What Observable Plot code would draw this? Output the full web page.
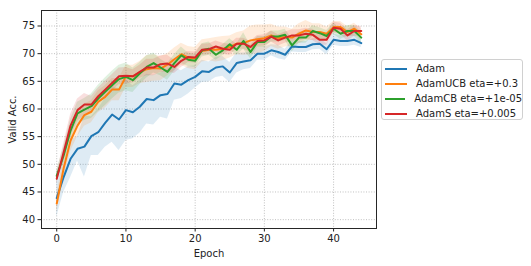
<!DOCTYPE html>
<html>
<head>
<meta charset="utf-8">
<script src="https://cdn.jsdelivr.net/npm/d3@7"></script>
<script src="https://cdn.jsdelivr.net/npm/@observablehq/plot@0.6"></script>
<style>
  html, body { margin: 0; padding: 0; background: white; }
  #wrap { position: relative; width: 531px; height: 266px; font-family: "DejaVu Sans", sans-serif; }
  #legend { position: absolute; left: 381px; top: 59px; width: 142px; height: 61px; border: 1px solid #d0d0d0; border-radius: 3px; background: rgba(255,255,255,0.8); box-sizing: border-box; padding-top: 1px; }
  .row { height: 15px; display: flex; align-items: center; font-size: 10px; color: #222; white-space: nowrap; }
  .sw { width: 22px; height: 2px; margin-left: 3px; margin-right: 9px; }
</style>
</head>
<body>
<div id="wrap"><div id="legend"></div></div>
<script>
const seriesNames = ["Adam", "AdamUCB eta=+0.3", "AdamCB eta=+1e-05", "AdamS eta=+0.005"];
const seriesColors = ["#1f77b4", "#ff7f0e", "#2ca02c", "#d62728"];
const xTicks = [0, 10, 20, 30, 40];
const yTicks = [40, 45, 50, 55, 60, 65, 70, 75];

const adamMean = [43.9, 47.7, 51.0, 52.8, 53.2, 55.1, 55.8, 57.5, 59.0, 58.1, 59.8, 59.4, 60.4, 61.8, 61.6, 62.5, 62.7, 64.6, 64.4, 65.2, 65.8, 66.8, 66.7, 67.5, 67.7, 66.6, 68.3, 68.6, 68.8, 70.0, 70.0, 70.6, 70.3, 69.8, 71.3, 71.2, 71.2, 71.7, 71.8, 70.8, 72.5, 72.3, 72.3, 72.5, 71.9];
const adamStd  = [3.4, 2.8, 3.4, 2.2, 5.5, 3.5, 4.2, 4.4, 5.0, 5.6, 5.5, 4.8, 4.8, 4.5, 4.5, 4.0, 4.5, 3.0, 2.5, 2.5, 2.0, 2.0, 1.8, 1.8, 1.8, 1.8, 1.8, 1.5, 1.5, 1.2, 1.2, 1.0, 1.2, 1.0, 1.0, 1.0, 1.0, 1.0, 1.0, 1.0, 1.0, 1.0, 1.0, 1.0, 0.8];

const ucbMean = [42.9, 49.3, 54.3, 57.0, 58.9, 59.5, 61.3, 62.2, 63.5, 63.5, 65.9, 65.9, 66.6, 67.2, 67.4, 67.3, 68.0, 69.0, 69.9, 69.3, 69.1, 70.5, 70.7, 70.7, 70.9, 71.2, 71.8, 71.9, 72.4, 72.6, 72.8, 73.3, 72.8, 73.0, 72.9, 73.6, 74.2, 73.9, 73.9, 73.6, 74.8, 74.8, 73.9, 74.5, 73.5];
const ucbStd  = [1.5, 2.0, 2.0, 2.0, 2.0, 2.0, 2.0, 2.0, 2.0, 2.0, 2.0, 2.0, 2.0, 2.4, 2.4, 2.2, 2.0, 2.0, 2.0, 2.0, 2.0, 2.0, 2.0, 2.2, 2.2, 2.0, 2.0, 2.2, 2.6, 2.6, 2.4, 2.0, 2.0, 1.8, 1.5, 1.8, 1.8, 1.5, 1.5, 1.2, 1.0, 1.0, 1.0, 1.0, 1.0];

const cbMean = [47.9, 51.6, 56.1, 59.2, 59.9, 60.5, 61.9, 63.1, 64.3, 65.4, 65.8, 65.2, 66.4, 67.6, 68.3, 67.5, 66.7, 68.3, 69.7, 68.9, 68.7, 70.6, 70.9, 69.8, 70.6, 71.7, 70.7, 72.3, 70.3, 72.1, 72.1, 73.1, 73.1, 73.4, 71.5, 72.9, 72.9, 74.1, 73.7, 73.2, 74.5, 73.6, 74.1, 74.1, 72.9];
const cbStd  = [1.0, 1.5, 2.0, 2.0, 2.0, 2.2, 2.4, 2.5, 2.5, 2.5, 2.5, 2.2, 2.0, 2.0, 1.8, 1.5, 1.5, 1.5, 1.5, 1.2, 1.2, 1.2, 1.2, 1.0, 1.0, 1.0, 1.0, 1.5, 1.2, 1.0, 1.0, 1.0, 1.0, 1.0, 1.2, 1.0, 1.0, 1.0, 1.0, 1.0, 1.0, 1.0, 1.0, 1.0, 1.0];

const sMean = [47.4, 52.2, 57.0, 59.8, 60.8, 60.8, 62.3, 63.5, 64.7, 65.9, 66.0, 65.9, 66.7, 67.5, 67.5, 68.1, 68.2, 67.6, 68.7, 69.4, 69.3, 70.7, 70.8, 71.3, 70.9, 70.7, 71.8, 71.8, 71.2, 72.3, 72.4, 73.1, 72.4, 72.9, 73.3, 73.3, 73.6, 73.4, 72.5, 72.5, 74.7, 74.5, 73.3, 74.1, 74.1];
const sStd  = [1.0, 1.5, 2.0, 2.0, 2.0, 1.5, 1.5, 1.5, 1.5, 1.5, 1.5, 1.2, 1.2, 1.5, 1.5, 1.5, 1.5, 1.2, 1.2, 1.0, 1.0, 1.0, 1.0, 1.0, 1.0, 1.0, 1.0, 1.0, 1.0, 1.0, 1.0, 1.0, 1.0, 1.0, 1.0, 1.0, 1.0, 1.0, 1.0, 1.0, 1.0, 1.0, 1.0, 1.0, 0.8];

const means = [adamMean, ucbMean, cbMean, sMean];
const stds = [adamStd, ucbStd, cbStd, sStd];

const rows = [];
means.forEach((m, k) => m.forEach((v, i) => rows.push({
  series: seriesNames[k], epoch: i, mean: v, lo: v - stds[k][i], hi: v + stds[k][i]
})));

const bandMarks = seriesNames.map((s, k) => Plot.areaY(rows.filter(r => r.series === s), {
  x: "epoch", y1: "lo", y2: "hi", fill: seriesColors[k], fillOpacity: 0.15
}));
const lineMarks = seriesNames.map((s, k) => Plot.lineY(rows.filter(r => r.series === s), {
  x: "epoch", y: "mean", stroke: seriesColors[k], strokeWidth: 2
}));

const chart = Plot.plot({
  width: 531, height: 266,
  marginLeft: 41, marginRight: 155, marginTop: 10, marginBottom: 38,
  x: {domain: [-2.2, 46.2]},
  y: {domain: [38.4, 77.8]},
  style: {fontFamily: "DejaVu Sans", fontSize: "10px", background: "white", color: "#222"},
  marks: [
    Plot.gridX(xTicks, {stroke: "#b0b0b0", strokeOpacity: 1, strokeWidth: 0.8, strokeDasharray: "1,1.6"}),
    Plot.gridY(yTicks, {stroke: "#b0b0b0", strokeOpacity: 1, strokeWidth: 0.8, strokeDasharray: "1,1.6"}),
    ...bandMarks,
    ...lineMarks,
    Plot.frame({stroke: "#262626", strokeWidth: 1}),
    Plot.axisX(xTicks, {tickSize: 3.5, tickPadding: 3, fontSize: 10, label: "Epoch", labelAnchor: "center", labelArrow: "none", labelOffset: 28}),
    Plot.axisY(yTicks, {tickSize: 3.5, tickPadding: 3, fontSize: 10, label: "Valid Acc.", labelAnchor: "center", labelArrow: "none", labelOffset: 33})
  ]
});
document.getElementById("wrap").prepend(chart);

const legend = document.getElementById("legend");
seriesNames.forEach((s, k) => {
  const row = document.createElement("div");
  row.className = "row";
  const sw = document.createElement("span");
  sw.className = "sw";
  sw.style.background = seriesColors[k];
  const t = document.createElement("span");
  t.textContent = s;
  row.appendChild(sw); row.appendChild(t);
  legend.appendChild(row);
});
</script>
</body>
</html>
